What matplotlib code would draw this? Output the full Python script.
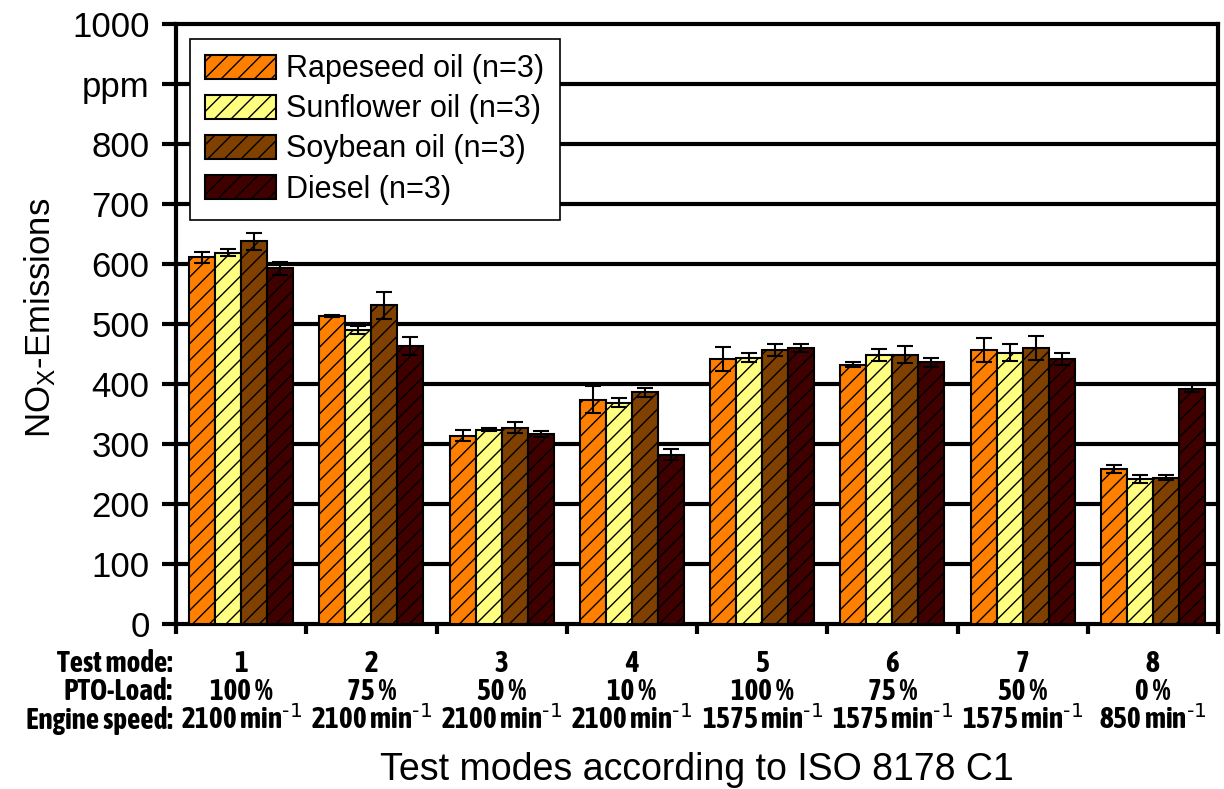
import matplotlib
matplotlib.use("Agg")
import matplotlib.pyplot as plt
from matplotlib import font_manager
import numpy as np

# ---- data ----
modes = ["1", "2", "3", "4", "5", "6", "7", "8"]
pto_load = ["100 %", "75 %", "50 %", "10 %", "100 %", "75 %", "50 %", "0 %"]
engine_speed = ["2100", "2100", "2100", "2100", "1575", "1575", "1575", "850"]
series_names = ["Rapeseed oil (n=3)", "Sunflower oil (n=3)", "Soybean oil (n=3)", "Diesel (n=3)"]
rapeseed = [611, 513, 314, 374, 442, 432, 457, 258]
sunflower = [619, 490, 324, 369, 444, 448, 452, 242]
soybean = [638, 531, 327, 386, 457, 449, 460, 244]
diesel = [593, 464, 317, 282, 460, 436, 442, 392]
rapeseed_err = [9, 2, 9, 22, 20, 4, 20, 7]
sunflower_err = [6, 7, 3, 8, 7, 10, 14, 7]
soybean_err = [14, 22, 9, 8, 10, 14, 20, 4]
diesel_err = [11, 15, 5, 9, 6, 7, 10, 6]
yticks = [0, 100, 200, 300, 400, 500, 600, 700, 800, 900, 1000]
ytick_labels = ["0", "100", "200", "300", "400", "500", "600", "700", "800", "ppm", "1000"]
colors = ["#FF8000", "#FFFF80", "#804000", "#400000"]

fonts = font_manager.fontManager.ttflist
if any(f.name == "Asap Condensed" for f in fonts):
    narrow, narrow_size = "Asap Condensed", 21
else:
    narrow, narrow_size = "Liberation Sans", 15

plt.rcParams["font.family"] = ["Liberation Sans", "DejaVu Sans"]
plt.rcParams["mathtext.default"] = "regular"
plt.rcParams["hatch.linewidth"] = 1.0

fig = plt.figure(figsize=(12.24, 7.89), dpi=100)
ax = fig.add_axes([176 / 1224, 1 - 624 / 789, (1218 - 176) / 1224, 600 / 789])

x = np.arange(len(modes))
w = 0.2
all_vals = [rapeseed, sunflower, soybean, diesel]
all_errs = [rapeseed_err, sunflower_err, soybean_err, diesel_err]
for i, (vals, errs, c, nm) in enumerate(zip(all_vals, all_errs, colors, series_names)):
    pos = x + (i - 1.5) * w
    ax.bar(pos, vals, width=w, color=c, edgecolor="black", linewidth=1.5,
           hatch="//", label=nm, zorder=3)
    ax.errorbar(pos, vals, yerr=errs, fmt="none", ecolor="black", elinewidth=1.5,
                capsize=6, capthick=1.5, zorder=4)

ax.set_xlim(-0.5, len(modes) - 0.5)
ax.set_ylim(0, 1000)
ax.set_yticks(yticks)
ax.set_yticklabels(ytick_labels, fontsize=25)
for yv in yticks[1:-1]:
    ax.axhline(yv, color="black", linewidth=3, zorder=1)

for s in ax.spines.values():
    s.set_linewidth(3)
ax.tick_params(axis="y", direction="out", length=10, width=3, pad=9)
ax.set_xticks(np.arange(len(modes) + 1) - 0.5)
ax.set_xticklabels([])
ax.tick_params(axis="x", direction="out", length=7, width=3)

fig.text(40 / 1224, 1 - 318 / 789, "NO$_X$-Emissions", rotation=90, ha="center",
         va="center", fontsize=25)

tr = ax.get_xaxis_transform()
rows_y = [-0.08, -0.1267, -0.175]
fp = dict(family=narrow, fontweight="bold", fontsize=narrow_size)
lx = -0.525
ax.text(lx, rows_y[0], "Test mode:", transform=tr, ha="right", va="baseline", **fp)
ax.text(lx, rows_y[1], "PTO-Load:", transform=tr, ha="right", va="baseline", **fp)
ax.text(lx, rows_y[2], "Engine speed:", transform=tr, ha="right", va="baseline", **fp)
for xi, m, p, e in zip(x, modes, pto_load, engine_speed):
    ax.text(xi, rows_y[0], m, transform=tr, ha="center", va="baseline", **fp)
    ax.text(xi, rows_y[1], p, transform=tr, ha="center", va="baseline", **fp)
    ax.text(xi, rows_y[2], e + r" min$^{\text{-1}}$", transform=tr, ha="center", va="baseline", **fp)

ax.text(0.5, -0.243, "Test modes according to ISO 8178 C1", transform=ax.transAxes,
        ha="center", va="center", fontsize=27)

leg = ax.legend(loc="upper left", bbox_to_anchor=((190 - 176) / 1042, (624 - 39) / 600),
                borderaxespad=0, fontsize=22, frameon=True, fancybox=False,
                edgecolor="black", framealpha=1, handlelength=2.3, handleheight=0.85,
                labelspacing=0.33, borderpad=0.5, handletextpad=0.35)
leg.get_frame().set_linewidth(1.2)

fig.savefig("out.png", dpi=100)
